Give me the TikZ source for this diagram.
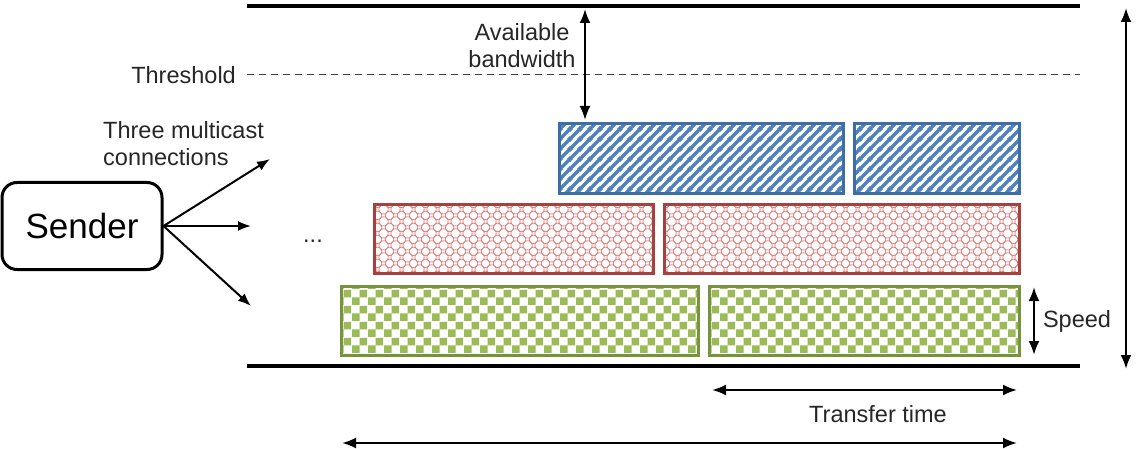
\documentclass[tikz,border=0pt]{standalone}
\usepackage{fontspec}
\setmainfont{Liberation Sans}
\usetikzlibrary{arrows.meta,patterns}
\definecolor{bluel}{HTML}{4F81BD}
\definecolor{blued}{HTML}{3E6EA8}
\definecolor{redl}{HTML}{D88684}
\definecolor{redd}{HTML}{A8403D}
\definecolor{greenl}{HTML}{9BBB59}
\definecolor{greend}{HTML}{77933C}
\pgfdeclarepatternformonly{mystripes}{\pgfqpoint{0pt}{0pt}}{\pgfqpoint{10pt}{10pt}}{\pgfqpoint{10pt}{10pt}}{%
  \pgfsetlinewidth{3.6pt}%
  \pgfpathmoveto{\pgfqpoint{-1pt}{-1pt}}\pgfpathlineto{\pgfqpoint{11pt}{11pt}}%
  \pgfpathmoveto{\pgfqpoint{-6pt}{4pt}}\pgfpathlineto{\pgfqpoint{6pt}{16pt}}%
  \pgfpathmoveto{\pgfqpoint{4pt}{-6pt}}\pgfpathlineto{\pgfqpoint{16pt}{6pt}}%
  \pgfusepath{stroke}}
\pgfdeclarepatternformonly{mychecks}{\pgfqpoint{0pt}{0pt}}{\pgfqpoint{16pt}{16pt}}{\pgfqpoint{16pt}{16pt}}{%
  \pgfpathrectangle{\pgfqpoint{0pt}{0pt}}{\pgfqpoint{8pt}{8pt}}%
  \pgfpathrectangle{\pgfqpoint{8pt}{8pt}}{\pgfqpoint{8pt}{8pt}}%
  \pgfusepath{fill}}
\pgfdeclarepatternformonly{mylattice}{\pgfqpoint{0pt}{0pt}}{\pgfqpoint{12pt}{12pt}}{\pgfqpoint{12pt}{12pt}}{%
  \pgfsetlinewidth{0.8pt}%
  \pgfpathcircle{\pgfqpoint{6pt}{6pt}}{4.6pt}%
  \pgfpathcircle{\pgfqpoint{0pt}{0pt}}{4.6pt}%
  \pgfpathcircle{\pgfqpoint{12pt}{0pt}}{4.6pt}%
  \pgfpathcircle{\pgfqpoint{0pt}{12pt}}{4.6pt}%
  \pgfpathcircle{\pgfqpoint{12pt}{12pt}}{4.6pt}%
  \pgfusepath{stroke}}
\tikzset{
  lbl/.style={font=\fontsize{23.5}{27}\selectfont, inner sep=0pt, text=black!85},
  bluebox/.style={draw=blued, line width=3pt, pattern=mystripes, pattern color=bluel, inner sep=0pt, anchor=north west},
  redbox/.style={draw=redd, line width=3pt, pattern=mylattice, pattern color=redl, inner sep=0pt, anchor=north west},
  greenbox/.style={draw=greend, line width=3pt, pattern=mychecks, pattern color=greenl, inner sep=0pt, anchor=north west},
  bar/.style={line width=4pt},
  dblarrow/.style={line width=2.2pt, {Latex[length=14pt,width=11pt]}-{Latex[length=14pt,width=11pt]}},
  conn/.style={line width=2pt, -{Latex[length=13pt,width=10pt]}},
  senderbox/.style={draw, line width=3pt, rounded corners=15pt, minimum width=160pt, minimum height=87pt, font=\fontsize{35}{40}\selectfont, inner sep=0pt}
}
\begin{document}
\begin{tikzpicture}[x=1pt,y=-1pt]
\useasboundingbox (0,0) rectangle (1140,449);
% horizontal bars
\coordinate (topL) at (247,6);
\coordinate (topR) at (1080,6);
\coordinate (botL) at (247,366);
\coordinate (botR) at (1080,366);
\draw[bar] (topL) -- (topR);
\draw[bar] (botL) -- (botR);
\coordinate (thL) at (247,75);
\coordinate (thR) at (1080,75);
\draw[dashed, line width=1pt, black!75, dash pattern=on 7pt off 5pt] (thL) -- (thR);
\node[lbl, anchor=east] (thr) at (236,75) {Threshold};
% boxes
\node[bluebox, minimum width=284pt, minimum height=70pt] (b1) at (558,122) {};
\node[bluebox, minimum width=165pt, minimum height=70pt] (b2) at (853,122) {};
\node[redbox, minimum width=279pt, minimum height=69pt] (r1) at (373,203) {};
\node[redbox, minimum width=355pt, minimum height=69pt] (r2) at (663,203) {};
\node[greenbox, minimum width=357pt, minimum height=69pt] (g1) at (340,285) {};
\node[greenbox, minimum width=310pt, minimum height=69pt] (g2) at (708,285) {};
% available bandwidth
\coordinate (abTop) at (585,9);
\coordinate (abBot) at (585,120);
\draw[dblarrow] (abTop) -- (abBot);
\node[lbl, align=center] (ab) at (522,46) {Available\\bandwidth};
% sender
\node[senderbox] (sender) at (82,226) {Sender};
\coordinate (c1) at (270,159);
\coordinate (c2) at (251,226);
\coordinate (c3) at (251,306);
\draw[conn] (sender.east) -- (c1);
\draw[conn] (sender.east) -- (c2);
\draw[conn] (sender.east) -- (c3);
\node[lbl, align=left, anchor=north west] (tmc) at (103,121) {Three multicast\\connections};
\node[lbl] (dots) at (313,241) {...};
% speed
\coordinate (spTop) at (1034,287);
\coordinate (spBot) at (1034,355);
\draw[dblarrow] (spTop) -- (spBot);
\node[lbl] (speed) at (1077,321) {Speed};
% right vertical
\coordinate (rvTop) at (1126,8);
\coordinate (rvBot) at (1126,369);
\draw[dblarrow] (rvTop) -- (rvBot);
% transfer time
\coordinate (ttL) at (712,390);
\coordinate (ttR) at (1017,390);
\draw[dblarrow] (ttL) -- (ttR);
\node[lbl] (tt) at (878,414) {Transfer time};
% bottom
\coordinate (bbL) at (342,443);
\coordinate (bbR) at (1017,443);
\draw[dblarrow] (bbL) -- (bbR);
\end{tikzpicture}
\end{document}
